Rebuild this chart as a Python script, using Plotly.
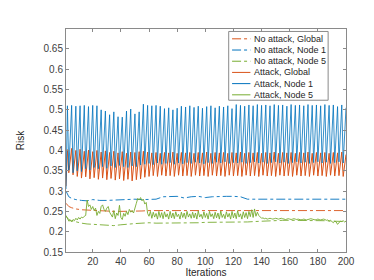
import plotly.graph_objects as go

iterations = list(range(1, 201))

attack_node1 = [0.305,
    0.510, 0.352, 0.440, 0.511, 0.345, 0.436, 0.509, 0.350, 0.441,
    0.510, 0.348, 0.438, 0.511, 0.355, 0.443, 0.508, 0.352, 0.440,
    0.511, 0.358, 0.445, 0.510, 0.355, 0.441, 0.500, 0.360, 0.438,
    0.497, 0.356, 0.436, 0.488, 0.362, 0.432, 0.495, 0.358, 0.437,
    0.483, 0.363, 0.430, 0.482, 0.360, 0.433, 0.497, 0.358, 0.438,
    0.502, 0.362, 0.440, 0.490, 0.360, 0.435, 0.495, 0.364, 0.438,
    0.514, 0.366, 0.446, 0.511, 0.368, 0.444, 0.510, 0.365, 0.445,
    0.511, 0.369, 0.443, 0.509, 0.366, 0.446, 0.503, 0.368, 0.442,
    0.505, 0.370, 0.444, 0.500, 0.366, 0.441, 0.504, 0.369, 0.443,
    0.509, 0.367, 0.445, 0.507, 0.370, 0.444, 0.510, 0.368, 0.446,
    0.506, 0.371, 0.443, 0.509, 0.369, 0.445, 0.504, 0.367, 0.442,
    0.508, 0.370, 0.444, 0.510, 0.368, 0.446, 0.505, 0.371, 0.443,
    0.509, 0.369, 0.445, 0.507, 0.372, 0.444, 0.510, 0.368, 0.446,
    0.503, 0.370, 0.442, 0.513, 0.369, 0.447, 0.511, 0.371, 0.445,
    0.509, 0.368, 0.446, 0.512, 0.370, 0.447, 0.510, 0.372, 0.445,
    0.513, 0.369, 0.448, 0.511, 0.371, 0.446, 0.512, 0.368, 0.447,
    0.510, 0.370, 0.445, 0.513, 0.372, 0.448, 0.511, 0.369, 0.446,
    0.512, 0.371, 0.447, 0.509, 0.368, 0.445, 0.513, 0.370, 0.448,
    0.511, 0.372, 0.446, 0.512, 0.369, 0.447, 0.510, 0.371, 0.445,
    0.513, 0.368, 0.448, 0.511, 0.370, 0.446, 0.512, 0.372, 0.447,
    0.510, 0.369, 0.445, 0.513, 0.371, 0.448, 0.511, 0.368, 0.446,
    0.512, 0.370, 0.447, 0.508, 0.372, 0.445, 0.512, 0.369, 0.447,
    0.505]

attack_global = [0.312,
    0.402, 0.345, 0.372, 0.405, 0.340, 0.370, 0.400, 0.336, 0.368,
    0.403, 0.332, 0.366, 0.398, 0.335, 0.368, 0.401, 0.330, 0.365,
    0.397, 0.333, 0.367, 0.400, 0.329, 0.364, 0.396, 0.332, 0.366,
    0.399, 0.328, 0.363, 0.395, 0.331, 0.365, 0.398, 0.327, 0.362,
    0.394, 0.330, 0.364, 0.397, 0.326, 0.361, 0.393, 0.329, 0.363,
    0.396, 0.325, 0.360, 0.395, 0.328, 0.362, 0.397, 0.330, 0.363,
    0.398, 0.334, 0.366, 0.396, 0.336, 0.365, 0.394, 0.338, 0.366,
    0.395, 0.336, 0.364, 0.393, 0.339, 0.366, 0.395, 0.337, 0.365,
    0.394, 0.338, 0.366, 0.396, 0.336, 0.364, 0.393, 0.339, 0.366,
    0.395, 0.337, 0.365, 0.394, 0.338, 0.366, 0.395, 0.336, 0.364,
    0.393, 0.339, 0.366, 0.395, 0.337, 0.365, 0.394, 0.338, 0.366,
    0.396, 0.336, 0.364, 0.393, 0.339, 0.366, 0.395, 0.337, 0.365,
    0.394, 0.338, 0.366, 0.395, 0.336, 0.364, 0.393, 0.339, 0.366,
    0.395, 0.337, 0.365, 0.394, 0.338, 0.366, 0.396, 0.336, 0.364,
    0.393, 0.339, 0.366, 0.395, 0.337, 0.365, 0.394, 0.338, 0.366,
    0.395, 0.336, 0.364, 0.393, 0.339, 0.366, 0.395, 0.337, 0.365,
    0.394, 0.338, 0.366, 0.396, 0.336, 0.364, 0.393, 0.339, 0.366,
    0.395, 0.337, 0.365, 0.394, 0.338, 0.366, 0.395, 0.336, 0.364,
    0.393, 0.339, 0.366, 0.395, 0.337, 0.365, 0.394, 0.338, 0.366,
    0.396, 0.336, 0.364, 0.393, 0.339, 0.366, 0.395, 0.337, 0.365,
    0.394, 0.338, 0.366, 0.395, 0.336, 0.364, 0.393, 0.339, 0.366,
    0.395, 0.337, 0.365, 0.394, 0.338, 0.366, 0.396, 0.336, 0.364,
    0.390]

attack_node5 = [
    0.240, 0.232, 0.226, 0.228, 0.224, 0.230, 0.227, 0.233, 0.229, 0.235, 0.231, 0.236, 0.234, 0.238, 0.240,
    0.278, 0.262, 0.266, 0.255, 0.262, 0.252, 0.258, 0.240, 0.250, 0.245, 0.262, 0.266, 0.255, 0.250, 0.258,
    0.262, 0.248, 0.240, 0.236, 0.252, 0.232, 0.246, 0.240, 0.265, 0.235, 0.230, 0.245, 0.238, 0.250, 0.242,
    0.255, 0.248, 0.252, 0.246, 0.262, 0.270, 0.282, 0.278, 0.284, 0.276, 0.280, 0.268, 0.272, 0.245, 0.238,
    0.250, 0.233, 0.248, 0.236, 0.245, 0.231, 0.250, 0.235, 0.247, 0.232, 0.249, 0.236, 0.244, 0.231, 0.250,
    0.234, 0.246, 0.232, 0.249, 0.237, 0.243, 0.231, 0.248, 0.235, 0.246, 0.232, 0.250, 0.236, 0.244, 0.233,
    0.248, 0.234, 0.246, 0.231, 0.251, 0.236, 0.243, 0.232, 0.249, 0.235, 0.245, 0.231, 0.250, 0.237, 0.244,
    0.232, 0.248, 0.234, 0.246, 0.231, 0.251, 0.235, 0.243, 0.232, 0.249, 0.236, 0.245, 0.231, 0.250, 0.234,
    0.246, 0.232, 0.252, 0.236, 0.244, 0.231, 0.249, 0.235, 0.247, 0.232, 0.250, 0.237, 0.254, 0.235, 0.256,
    0.238, 0.248, 0.240, 0.236, 0.233, 0.234, 0.232, 0.233, 0.231, 0.232, 0.233, 0.232, 0.231, 0.232, 0.233,
    0.232, 0.231, 0.232, 0.233, 0.232, 0.231, 0.230, 0.231, 0.232, 0.231, 0.230, 0.231, 0.232, 0.231, 0.230,
    0.231, 0.230, 0.229, 0.230, 0.231, 0.230, 0.229, 0.230, 0.231, 0.232, 0.231, 0.230, 0.229, 0.230, 0.231,
    0.230, 0.229, 0.230, 0.231, 0.230, 0.228, 0.229, 0.226, 0.228, 0.225, 0.222, 0.226, 0.224, 0.218, 0.223,
    0.226, 0.225, 0.227, 0.224, 0.226]

noattack_x = [1, 2, 3, 5, 8, 12, 16, 20, 25, 30, 35, 40, 45, 50, 55, 60, 65, 70, 75, 80, 85, 90,
              95, 100, 105, 110, 115, 120, 125, 130, 135, 140, 145, 150, 155, 160, 165, 170, 175,
              180, 185, 190, 195, 200]

noattack_global = [0.270, 0.265, 0.262, 0.259, 0.256, 0.254, 0.253, 0.252, 0.251, 0.250, 0.250,
                   0.250, 0.250, 0.250, 0.251, 0.252, 0.252, 0.252, 0.252, 0.252, 0.252, 0.252,
                   0.252, 0.252, 0.252, 0.252, 0.252, 0.252, 0.252, 0.252, 0.252, 0.252, 0.252,
                   0.252, 0.252, 0.252, 0.252, 0.252, 0.252, 0.252, 0.252, 0.252, 0.252, 0.252]

noattack_node1 = [0.300, 0.292, 0.286, 0.282, 0.279, 0.277, 0.276, 0.279, 0.277, 0.277, 0.278,
                  0.279, 0.279, 0.280, 0.279, 0.279, 0.280, 0.286, 0.287, 0.287, 0.283, 0.286,
                  0.287, 0.284, 0.286, 0.287, 0.287, 0.287, 0.286, 0.280, 0.280, 0.280, 0.280,
                  0.280, 0.280, 0.280, 0.280, 0.280, 0.280, 0.280, 0.280, 0.280, 0.280, 0.280]

noattack_node5 = [0.238, 0.233, 0.230, 0.227, 0.224, 0.221, 0.219, 0.218, 0.217, 0.216, 0.215,
                  0.217, 0.219, 0.220, 0.221, 0.222, 0.221, 0.221, 0.222, 0.222, 0.222, 0.222,
                  0.222, 0.223, 0.223, 0.223, 0.223, 0.224, 0.224, 0.224, 0.225, 0.226, 0.227,
                  0.227, 0.228, 0.228, 0.228, 0.228, 0.228, 0.227, 0.227, 0.226, 0.226, 0.225]

names = ["No attack, Global", "No attack, Node 1", "No attack, Node 5",
         "Attack, Global", "Attack, Node 1", "Attack, Node 5"]
y_ticks = [0.15, 0.2, 0.25, 0.3, 0.35, 0.4, 0.45, 0.5, 0.55, 0.6, 0.65]
y_tick_text = ["0.15", "0.2", "0.25", "0.3", "0.35", "0.4", "0.45", "0.5", "0.55", "0.6", "0.65"]
x_ticks = [20, 40, 60, 80, 100, 120, 140, 160, 180, 200]

BLUE = "#0072BD"
ORANGE = "#D95319"
GREEN = "#77AC30"

series = [
    (noattack_x, noattack_global, ORANGE, "dashdot", 0.9),
    (noattack_x, noattack_node1, BLUE, "dashdot", 0.9),
    (noattack_x, noattack_node5, GREEN, "dashdot", 0.9),
    (iterations, attack_global, ORANGE, "solid", 1.0),
    (iterations, attack_node1, BLUE, "solid", 0.8),
    (iterations, attack_node5, GREEN, "solid", 0.9),
]

fig = go.Figure()
for (xs, ys, col, dash, w), nm in zip(series, names):
    fig.add_trace(go.Scatter(x=xs, y=ys, mode="lines", name=nm, showlegend=False,
                             line=dict(color=col, dash=dash, width=w)))

# layout geometry (pixels)
W, H = 374, 280
L, R, T, B = 48, 36, 21, 32
pw, ph = W - L - R, H - T - B

def px_x(p):
    return (p - L) / pw

def px_y(p):
    return (H - B - p) / ph

font_family = "Liberation Sans, Arial, sans-serif"

shapes = [dict(type="rect", xref="paper", yref="paper",
               x0=px_x(216.5), x1=px_x(319.5), y0=px_y(93.5), y1=px_y(23.5),
               line=dict(color="#8a8a8a", width=1), fillcolor="white", layer="above")]
annotations = []
row_y = [31, 42.4, 53.8, 65.2, 76.6, 88]
for (xs, ys, col, dash, w), nm, ry in zip(series, names, row_y):
    shapes.append(dict(type="line", xref="paper", yref="paper",
                       x0=px_x(220), x1=px_x(239), y0=px_y(ry), y1=px_y(ry),
                       line=dict(color=col, dash=dash, width=1), layer="above"))
    annotations.append(dict(xref="paper", yref="paper", x=px_x(241), y=px_y(ry),
                            text=nm, showarrow=False, xanchor="left", yanchor="middle",
                            font=dict(family=font_family, size=9, color="#262626")))

axis_common = dict(showline=True, linecolor="#8a8a8a", linewidth=1, mirror="ticks",
                   ticks="inside", ticklen=3, tickcolor="#8a8a8a", showgrid=False,
                   zeroline=False, tickfont=dict(family=font_family, size=10, color="#404040"))

fig.update_layout(
    width=W, height=H,
    margin=dict(l=L, r=R, t=T, b=B),
    paper_bgcolor="white", plot_bgcolor="white",
    showlegend=False,
    shapes=shapes, annotations=annotations,
    xaxis=dict(range=[1, 200], tickvals=x_ticks,
               title=dict(text="Iterations", standoff=2,
                          font=dict(family=font_family, size=10, color="#262626")),
               **axis_common),
    yaxis=dict(range=[0.15, 0.699], tickvals=y_ticks, ticktext=y_tick_text,
               title=dict(text="Risk", standoff=17,
                          font=dict(family=font_family, size=10, color="#262626")),
               **axis_common),
)

fig.write_html("out.html")
